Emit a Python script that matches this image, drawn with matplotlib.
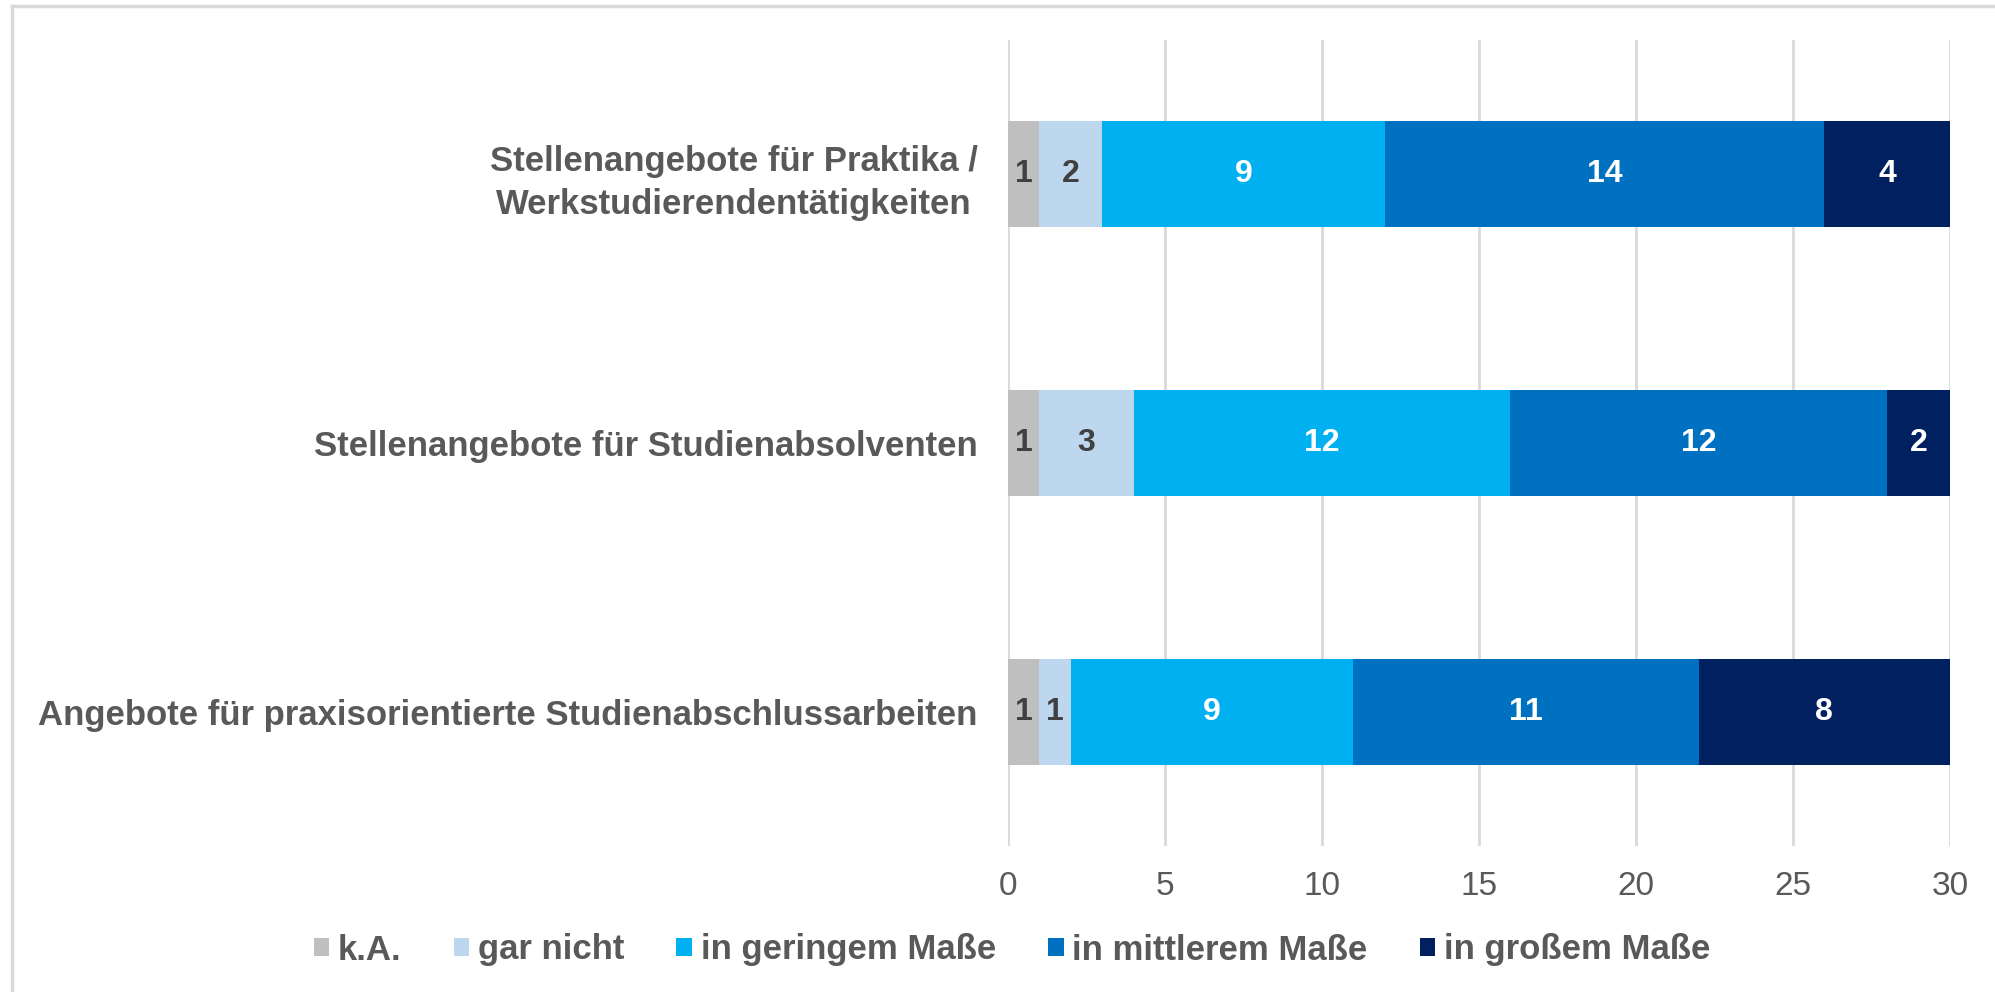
import matplotlib
matplotlib.use("Agg")
import matplotlib.pyplot as plt
from matplotlib.lines import Line2D
from matplotlib.patches import Patch

plt.rcParams['font.family'] = ['Liberation Sans', 'DejaVu Sans']

categories = [
    "Stellenangebote für Praktika /\nWerkstudierendentätigkeiten",
    "Stellenangebote für Studienabsolventen",
    "Angebote für praxisorientierte Studienabschlussarbeiten",
]
series_names = ["k.A.", "gar nicht", "in geringem Maße", "in mittlerem Maße", "in großem Maße"]
ka = [1, 1, 1]
gar_nicht = [2, 3, 1]
gering = [9, 12, 9]
mittel = [14, 12, 11]
gross = [4, 2, 8]
series_values = [ka, gar_nicht, gering, mittel, gross]
colors = ["#BFBFBF", "#BDD7EE", "#00B0F0", "#0070C0", "#002060"]
label_colors = ["#404040", "#404040", "white", "white", "white"]
xticks = [0, 5, 10, 15, 20, 25, 30]

W, H = 1995, 992
fig = plt.figure(figsize=(W / 100, H / 100), dpi=100)
ax = fig.add_axes([1008 / W, 1 - 846 / H, (1950 - 1008) / W, (846 - 40) / H])

ypos = list(range(len(categories)))
left = [0] * len(categories)
for name, vals, col, lc in zip(series_names, series_values, colors, label_colors):
    bars = ax.barh(ypos, vals, left=left, height=0.395, color=col, label=name, zorder=3)
    for b, v, l in zip(bars, vals, left):
        ax.text(l + v / 2, b.get_y() + b.get_height() / 2, str(v), ha='center', va='center',
                color=lc, fontsize=23, fontweight='bold', zorder=4)
    left = [a + b for a, b in zip(left, vals)]

ax.set_xlim(0, 30)
ax.set_ylim(2.5, -0.5)
ax.set_xticks(xticks)
ax.set_xticklabels([str(t) for t in xticks])
ax.set_yticks(ypos)
ax.set_yticklabels(categories, fontweight='bold', multialignment='center', linespacing=1.4)
ax.tick_params(axis='y', length=0, pad=22, labelsize=25, labelcolor='#595959')
ax.tick_params(axis='x', length=0, pad=18, labelsize=24, labelcolor='#595959')
for s in ax.spines.values():
    s.set_visible(False)
ax.grid(axis='x', color='#D9D9D9', linewidth=2, zorder=0)
ax.set_axisbelow(True)

handles = [Patch(facecolor=c, edgecolor='none') for c in colors]
leg = fig.legend(handles, series_names, loc='center', bbox_to_anchor=(1012 / W, 1 - 950 / H),
                 ncol=5, frameon=False, prop={'weight': 'bold', 'size': 25},
                 handlelength=0.45, handleheight=0.45, handletextpad=0.25, columnspacing=1.5,
                 labelcolor='#595959')

# chart-area border (top and left visible)
fig.add_artist(Line2D([12 / W, 1], [1 - 6 / H, 1 - 6 / H], transform=fig.transFigure,
                      color='#D9D9D9', linewidth=2.5))
fig.add_artist(Line2D([12 / W, 12 / W], [0, 1 - 6 / H], transform=fig.transFigure,
                      color='#D9D9D9', linewidth=2.5))

fig.savefig("out.png", dpi=100, facecolor='white')
